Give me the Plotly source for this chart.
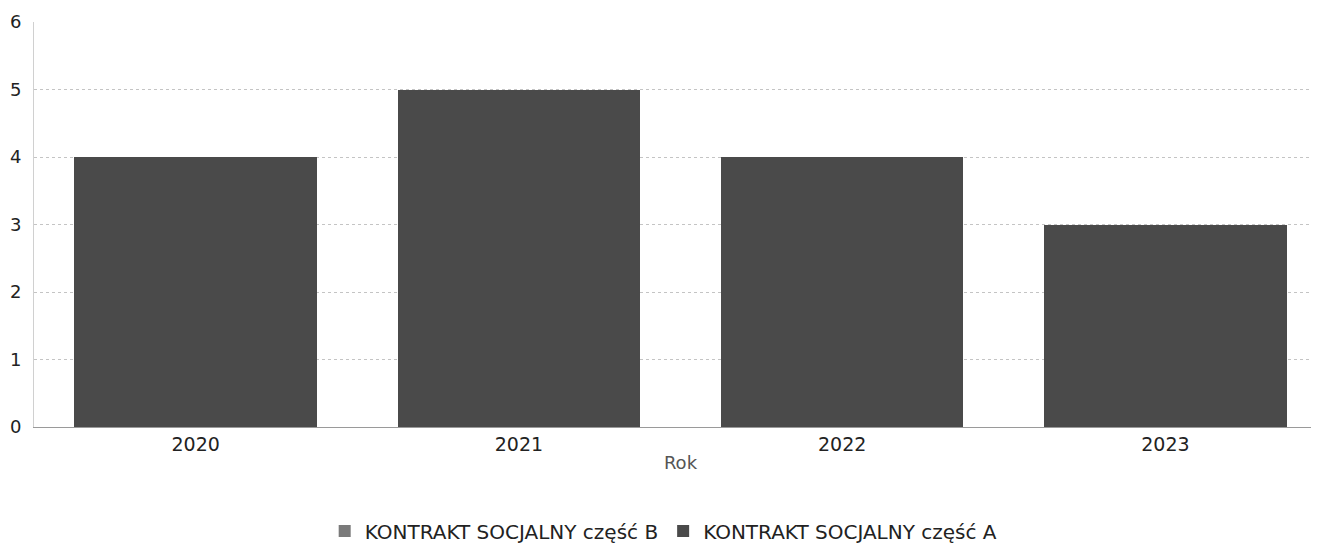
import plotly.graph_objects as go

years = ["2020", "2021", "2022", "2023"]
part_a = [4, 5, 4, 3]
part_b = [0, 0, 0, 0]
y_ticks = [0, 1, 2, 3, 4, 5, 6]

fig = go.Figure()
fig.add_trace(go.Bar(x=years, y=part_b, name="KONTRAKT SOCJALNY część B",
                     marker=dict(color="#7a7a7a", line=dict(width=0))))
fig.add_trace(go.Bar(x=years, y=part_a, name="KONTRAKT SOCJALNY część A",
                     marker=dict(color="#4a4a4a", line=dict(width=0))))

fig.update_layout(
    barmode="stack",
    bargap=0.25,
    width=1319, height=543,
    margin=dict(l=26, r=0, t=14, b=124),
    plot_bgcolor="white", paper_bgcolor="white",
    font=dict(family="DejaVu Sans", color="#222222", size=18),
    showlegend=True,
    legend=dict(orientation="h", x=0.487, xanchor="center", y=-0.257, yanchor="middle",
                font=dict(family="DejaVu Sans", size=20, color="#222222"),
                traceorder="normal"),
    xaxis=dict(title=dict(text="Rok", font=dict(family="DejaVu Sans", size=18, color="#555555"), standoff=2),
               tickfont=dict(size=19), showline=True, linecolor="#9a9a9a", linewidth=1,
               ticks="", showgrid=False),
    yaxis=dict(range=[0, 6], tickvals=y_ticks, tickfont=dict(size=18),
               showgrid=True, gridcolor="#c4c4c4", griddash="dot", gridwidth=1,
               showline=True, linecolor="#d0d0d0", zeroline=False, ticks="", ticklabelstandoff=8),
)

fig.write_html("out.html")
